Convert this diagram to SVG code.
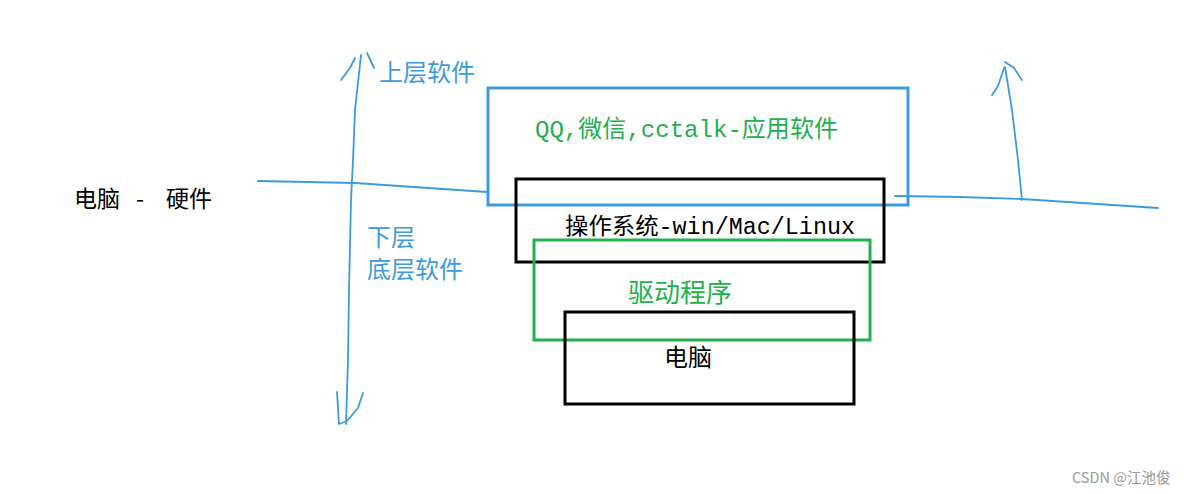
<svg xmlns="http://www.w3.org/2000/svg" width="1186" height="494" viewBox="0 0 1186 494">
<style>
.hand{fill:none;stroke:#3d9bdc;stroke-width:1.8;stroke-linecap:round;stroke-linejoin:round}
.box{fill:none;stroke-width:3}
.t{font-family:"Liberation Mono","Noto Sans CJK SC",monospace}
.cn{font-family:"Noto Sans CJK SC",sans-serif}
.blue{fill:#3d9bdc}
.green{fill:#22b14c}
</style>
<rect width="1186" height="494" fill="#ffffff"/>
<g id="connectors">
<path class="hand" d="M258,181 L355,183 L487,192"/>
<path class="hand" d="M895,196 L960,197 L1022,199 L1158,208"/>
<path class="hand" d="M346,424 L348,360 L349,290 L351,200 L353,160 L355,110 L361,55"/>
<path class="hand" d="M341,80 L350,68 L355,58"/>
<path class="hand" d="M367,53 L374,68"/>
<path class="hand" d="M337,392 L339,424 L347,421 L358,408 L363,393"/>
<path class="hand" d="M1022,200 L1018,160 L1012,110 L1005,67"/>
<path class="hand" d="M992,95 L998,86 L1004,68"/>
<path class="hand" d="M1005,62 L1014,68 L1022,80"/>
</g>
<g id="labels">
<text class="cn blue" x="379" y="81" font-size="24">上层软件</text>
<text class="cn blue" x="367" y="246" font-size="24">下层</text>
<text class="cn blue" x="367" y="278" font-size="24">底层软件</text>
<text class="cn" y="207" font-size="23" fill="#000"><tspan x="74">电脑</tspan><tspan x="136">-</tspan><tspan x="166">硬件</tspan></text>
</g>
<g id="app">
<rect class="box" x="488" y="88" width="420" height="117" stroke="#3d9bdc"/>
<text class="t green" x="535" y="137" font-size="24" textLength="303" lengthAdjust="spacingAndGlyphs">QQ,微信,cctalk-应用软件</text>
</g>
<g id="os">
<rect class="box" x="516" y="179" width="368" height="83" stroke="#000"/>
<text class="t" x="565" y="234" font-size="23" fill="#000" textLength="290" lengthAdjust="spacingAndGlyphs">操作系统-win/Mac/Linux</text>
</g>
<g id="driver">
<rect class="box" x="534" y="240" width="336" height="100" stroke="#22b14c"/>
<text class="cn green" x="628" y="302" font-size="26">驱动程序</text>
</g>
<g id="computer">
<rect class="box" x="565" y="312" width="289" height="92" stroke="#000"/>
<text class="cn" x="664" y="366" font-size="24" fill="#000">电脑</text>
</g>
<text class="cn" x="1072" y="483" font-size="14.5" fill="#999">CSDN @江池俊</text>
</svg>
